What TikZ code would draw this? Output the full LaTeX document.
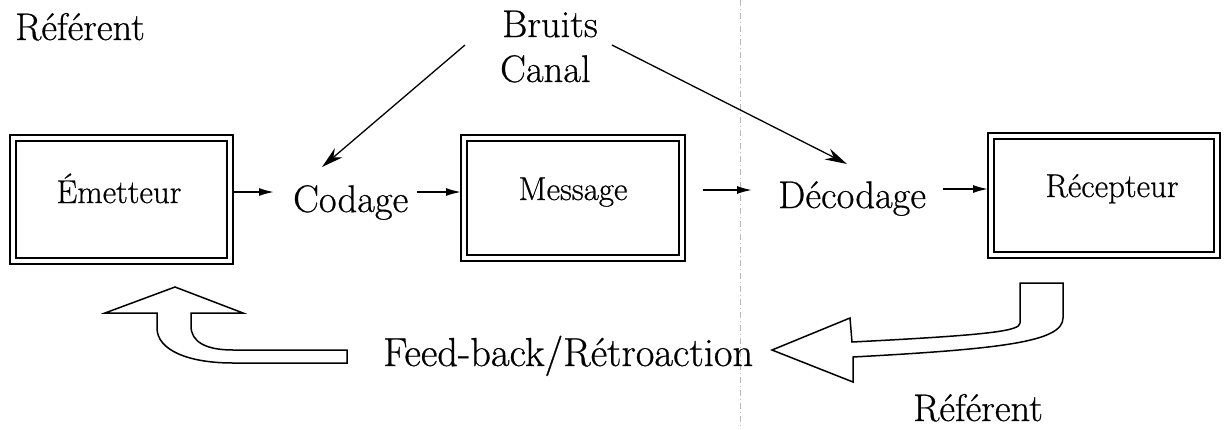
\documentclass[tikz,border=0pt]{standalone}
\usepackage{fontspec}
\setmainfont{Latin Modern Roman}[FakeBold=0.6]
\usetikzlibrary{arrows.meta}
\begin{document}
\begin{tikzpicture}[x=1pt,y=-1pt,
  big/.style={font=\fontsize{38.5}{44}\selectfont, inner sep=0pt, anchor=base west},
  small/.style={font=\fontsize{33}{38}\selectfont, inner sep=0pt, anchor=base},
  boxo/.style={draw, line width=2.6pt, inner sep=0pt, outer sep=0pt},
  boxi/.style={line width=1.4pt},
  arr/.style={line width=1.6pt, -{Latex[length=15pt,width=8pt]}},
  noise/.style={line width=1.3pt, -{Stealth[length=22pt,width=12pt]}},
  hollow/.style={line width=1.5pt, line join=miter},
  fold/.style={gray!55, line width=0.6pt, dash pattern=on 6pt off 3pt on 1pt off 3pt}]
\useasboundingbox (0,0) rectangle (1226,429);

% faint fold line
\coordinate (ftop) at (740,0);
\coordinate (fbot) at (740,429);
\draw[fold] (ftop) -- (fbot);

% boxes
\node[boxo, minimum width=223pt, minimum height=129pt] (e) at (121.5,199.5) {};
\draw[boxi] ([shift={(6,6)}]e.north west) rectangle ([shift={(-6,-6)}]e.south east);
\node[boxo, minimum width=224pt, minimum height=126pt] (m) at (573,198) {};
\draw[boxi] ([shift={(6,6)}]m.north west) rectangle ([shift={(-6,-6)}]m.south east);
\node[boxo, minimum width=232pt, minimum height=125pt] (r) at (1104,195.5) {};
\draw[boxi] ([shift={(6,6)}]r.north west) rectangle ([shift={(-6,-6)}]r.south east);

\node[small] (el) at (119,203) {Émetteur};
\node[small] (ml) at (573,200) {Message};
\node[small] (rl) at (1112,197) {Récepteur};

% labels
\node[big] (ref1) at (15,40) {Référent};
\node[big] (bruits) at (502,37) {Bruits};
\node[big] (canal) at (500,82) {Canal};
\node[big] (codage) at (293,212) {Codage};
\node[big] (decodage) at (778,208) {Décodage};
\node[big, font=\fontsize{40.5}{46}\selectfont] (feedback) at (383,366) {Feed-back/Rétroaction};
\node[big] (ref2) at (913,421) {Référent};

% helper rows
\coordinate (y192) at (0,192);
\coordinate (y190) at (0,190);
\coordinate (y189) at (0,189);

% chain arrows
\draw[arr, shorten >=19pt] (e.east |- y192) -- (codage.west |- y192);
\draw[arr, shorten <=9pt] (codage.east |- y192) -- (m.west |- y192);
\draw[arr, shorten <=18pt, shorten >=26pt] (m.east |- y190) -- (decodage.west |- y190);
\draw[arr, shorten <=17pt] (decodage.east |- y189) -- (r.west |- y189);

% noise arrows
\draw[noise] ([shift={(-37,8)}]bruits.base west) -- ([shift={(29,-45)}]codage.base west);
\draw[noise] ([shift={(14,8)}]bruits.base east) -- ([shift={(69,-44)}]decodage.base west);

% hollow feedback arrows
\draw[hollow] (105,313) -- (175,287) -- (243,313) -- (191,313) -- (191,326)
  .. controls (191,342) and (206,350) .. (233,350) -- (347,350) -- (347,363) -- (233,363)
  .. controls (188,363) and (157,350) .. (157,328) -- (157,313) -- cycle;

\draw[hollow] (1020,283) -- (1063,283) -- (1063,318)
  .. controls (1063,342) and (1000,349) .. (853,357) -- (853,382) -- (772,350) -- (850,318) -- (852,342)
  .. controls (990,335) and (1020,331) .. (1020,323) -- cycle;
\end{tikzpicture}
\end{document}
